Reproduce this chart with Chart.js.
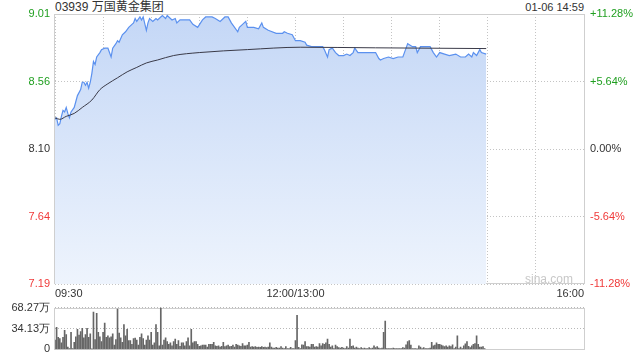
<!DOCTYPE html>
<html>
<head>
<meta charset="utf-8">
<title>03939 万国黄金集团</title>
<script src="https://cdn.jsdelivr.net/npm/chart.js@4.4.0/dist/chart.umd.min.js"></script>
<style>
  body { margin: 0; background: #fff; width: 640px; height: 360px; position: relative; overflow: hidden; }
  .txt { position: absolute; font-family: 'Liberation Sans', Arial, 'Noto Sans CJK SC', sans-serif; color: #333; white-space: nowrap; }
  .box { position: absolute; left: 0; width: 640px; }
</style>
</head>
<body>
<div class="txt" style="left:55px; top:0; font-size:12px; line-height:14px;">03939 万国黄金集团</div>
<div class="txt" style="right:56px; top:1px; font-size:11px; line-height:13px;">01-06 14:59</div>
<div class="box" style="top:0; height:300px;"><canvas id="priceChart"></canvas></div>
<div class="box" style="top:296px; height:65px;"><canvas id="volChart"></canvas></div>
<div class="txt" style="right:67px; top:272px; font-size:12px; line-height:14px; color:#c8c8c8;">sina.com</div>

<script>
// minutes since 09:30 (lunch break removed, 12:00 = 13:00 = 150)
const priceMinutes = [0,1,2,3,4,5,6,7,8,9,10,12,13,14,16,17,18,19,20,21,22,23,24,25,26,28,29,31,33,34,35,36,38,39,40,42,44,46,48,49,50,51,53,54,55,57,58,59,61,63,64,66,67,69,70,73,75,76,78,81,84,86,89,92,94,98,100,103,106,108,110,114,115,117,119,120,124,127,129,130,133,138,142,143,145,148,150,153,156,157,160,163,167,168,170,171,173,175,177,179,180,182,184,186,187,189,192,193,197,200,202,203,205,208,211,214,217,219,220,223,225,226,228,231,234,236,238,240,243,246,250,253,256,258,260,261,263,265,266,269];
const prices = [8.30,8.31,8.26,8.27,8.32,8.36,8.35,8.38,8.34,8.31,8.35,8.38,8.42,8.46,8.50,8.55,8.55,8.53,8.55,8.51,8.55,8.61,8.69,8.67,8.72,8.75,8.77,8.78,8.78,8.75,8.72,8.78,8.81,8.83,8.82,8.87,8.89,8.92,8.94,8.95,8.98,8.96,8.99,8.97,8.99,8.90,8.95,8.98,8.96,8.98,8.97,8.99,9.00,8.98,9.00,8.97,8.98,8.95,8.97,8.97,8.97,8.94,8.92,8.97,8.99,8.99,8.98,8.96,8.99,8.99,8.95,8.89,8.92,8.94,8.96,8.92,8.92,8.91,8.95,8.92,8.90,8.88,8.88,8.89,8.88,8.87,8.83,8.83,8.82,8.80,8.79,8.79,8.79,8.77,8.72,8.77,8.78,8.75,8.73,8.73,8.73,8.74,8.73,8.75,8.78,8.75,8.75,8.75,8.75,8.75,8.71,8.70,8.71,8.72,8.71,8.72,8.72,8.78,8.81,8.79,8.79,8.75,8.79,8.79,8.79,8.75,8.72,8.75,8.74,8.73,8.74,8.72,8.72,8.74,8.72,8.75,8.73,8.77,8.75,8.74];

// average price line
const avgMinutes = [0,3,7,12,17,23,28,33,39,45,51,57,64,74,90,120,153,200,269];
const avgPrices = [8.31,8.30,8.32,8.34,8.38,8.43,8.50,8.54,8.58,8.62,8.65,8.68,8.70,8.73,8.75,8.77,8.786,8.782,8.777];

// volume per minute, in 万 shares (index = minute)
const volumes = [
  15.2,35.9,19.8,17.5,10.6,19.8,31.3,24.4,3.7,1.4,28.0,1.4,11.5,20.7,32.6,23.4,29.0,34.5,18.8,24.4,34.5,19.8,25.3,0.5,61.1,16.1,58.8,28.0,20.7,12.9,28.0,42.8,19.8,22.1,18.8,20.7,25.3,6.9,16.1,65.7,26.7,18.8,11.5,40.5,22.1,32.6,14.3,14.3,8.3,17.5,18.4,15.2,6.9,19.8,25.3,17.5,6.9,15.2,22.1,15.2,28.0,6.9,10.6,40.5,28.0,6.0,68.0,
  6.9,15.2,18.8,12.9,8.3,10.6,6.0,12.9,17.0,8.3,14.3,5.1,10.6,10.6,6.0,12.9,18.8,6.0,32.6,10.6,12.9,12.9,8.3,5.1,6.0,6.9,6.9,6.9,3.7,8.3,8.3,8.3,11.5,6.0,5.1,6.0,3.7,5.1,11.5,4.6,6.0,6.9,4.6,5.1,6.9,3.7,8.3,6.9,6.0,5.1,9.7,6.0,6.0,6.9,11.5,3.7,4.6,3.7,4.6,3.2,3.7,3.2,4.6,3.2,3.7,2.8,3.7,10.6,3.7,
  2.3,2.3,3.2,2.3,2.3,4.6,2.3,1.4,4.6,1.4,1.4,3.2,1.4,1.4,14.3,55.6,3.2,1.4,7.4,6.9,12.9,4.6,4.6,3.7,8.3,8.3,3.7,4.6,3.7,9.7,6.0,9.7,8.3,10.6,17.0,8.3,3.7,6.0,1.4,6.9,4.6,2.8,2.3,3.2,2.3,1.4,4.6,2.3,17.0,5.1,6.0,2.3,3.7,2.3,1.4,2.8,1.4,2.3,1.4,1.4,2.8,1.4,2.3,6.0,2.8,4.6,2.3,
  1.4,2.3,
  28.0,46.4,1.4,1.4,1.4,1.4,2.3,1.4,1.4,1.4,1.4,1.4,2.8,2.3,7.4,12.9,14.3,6.9,1.4,1.4,1.4,0.3,6.0,3.7,1.4,2.8,1.4,1.4,1.4,2.3,11.5,6.0,6.9,10.6,8.3,8.3,6.9,6.0,4.6,6.0,3.7,6.0,4.6,7.4,1.4,3.7,22.1,1.4,3.7,1.4,6.0,9.2,12.9,5.1,2.8,6.0,8.3,9.7,22.1,8.3,3.7,3.7,4.6,1.4
];

// axes
const gridMinutes = [0,30,60,90,120,150,180,210,240,270,300,330];
const xLabelMinutes = [0,150,330];
const xLabelTexts = ['09:30','12:00/13:00','16:00'];
const priceTicks = [7.19,7.645,8.10,8.555,9.01];
const priceTickLabels = ['7.19','7.64','8.10','8.56','9.01'];
const pctTickLabels = ['-11.28%','-5.64%','0.00%','+5.64%','+11.28%'];
const volTicks = [0,34.13,68.27];
const volTickLabels = ['0','34.13万','68.27万'];

const GREEN = '#1f9f1f';
const RED = '#f03a3a';
const tickColors = [RED, RED, '#333', GREEN, GREEN];

Chart.defaults.font.family = "'Liberation Sans', Arial, sans-serif";
Chart.defaults.font.size = 11;
Chart.defaults.color = '#333';

// solid light frame round the plot area
const frame = {
  id: 'frame',
  beforeDatasetsDraw(chart) {
    const { ctx, chartArea: a } = chart;
    ctx.save();
    ctx.strokeStyle = '#cfcfcf';
    ctx.lineWidth = 1;
    ctx.strokeRect(Math.round(a.left) - 0.5, Math.round(a.top) + 0.5, Math.round(a.right - a.left) + 1, Math.round(a.bottom - a.top) - 1);
    ctx.restore();
  }
};

const toPoints = (xs, ys) => xs.map((x, i) => ({ x: x, y: ys[i] }));

// price chart
new Chart(document.getElementById('priceChart'), {
  type: 'line',
  data: {
    datasets: [
      {
        data: toPoints(avgMinutes, avgPrices),
        borderColor: '#3a3a48',
        borderWidth: 1,
        pointRadius: 0,
        cubicInterpolationMode: 'monotone',
        fill: false,
        order: 0
      },
      {
        data: toPoints(priceMinutes, prices),
        borderColor: '#5b91ef',
        borderWidth: 1.2,
        pointRadius: 0,
        tension: 0,
        fill: 'start',
        backgroundColor: (c) => {
          const a = c.chart.chartArea;
          if (!a) return '#dbe7fa';
          const g = c.chart.ctx.createLinearGradient(0, a.top, 0, a.bottom);
          g.addColorStop(0, '#c4d7f6');
          g.addColorStop(1, '#eef4fd');
          return g;
        },
        order: 1
      }
    ]
  },
  options: {
    responsive: true,
    maintainAspectRatio: false,
    animation: false,
    devicePixelRatio: 1,
    layout: { padding: { top: 14, left: 0, right: 0, bottom: 0 } },
    plugins: { legend: { display: false }, tooltip: { enabled: false } },
    scales: {
      x: {
        type: 'linear',
        min: 0,
        max: 330,
        offset: false,
        afterBuildTicks: (s) => { s.ticks = gridMinutes.map(v => ({ value: v })); },
        afterFit: (s) => { s.height = 16; },
        ticks: {
          autoSkip: false,
          maxRotation: 0,
          align: 'inner',
          padding: 3,
          color: '#333',
          callback: (v) => {
            const k = xLabelMinutes.indexOf(v);
            return k >= 0 ? xLabelTexts[k] : '';
          }
        },
        grid: { color: '#c4c4c4', drawTicks: false },
        border: { display: false, dash: [1, 2] }
      },
      y: {
        position: 'left',
        min: 7.19,
        max: 9.01,
        afterBuildTicks: (s) => { s.ticks = priceTicks.map(v => ({ value: v })); },
        afterFit: (s) => { s.width = 55; },
        ticks: {
          padding: 5,
          color: (c) => tickColors[c.index],
          callback: (v, i) => priceTickLabels[i]
        },
        grid: { color: '#c4c4c4', drawTicks: false },
        border: { display: false, dash: [1, 2] }
      },
      pct: {
        position: 'right',
        min: 7.19,
        max: 9.01,
        afterBuildTicks: (s) => { s.ticks = priceTicks.map(v => ({ value: v })); },
        afterFit: (s) => { s.width = 56; },
        ticks: {
          padding: 6,
          color: (c) => tickColors[c.index],
          callback: (v, i) => pctTickLabels[i]
        },
        grid: { display: false, drawTicks: false },
        border: { display: false }
      }
    }
  },
  plugins: [frame]
});

// volume chart
new Chart(document.getElementById('volChart'), {
  type: 'bar',
  data: {
    datasets: [{
      data: volumes.map((v, i) => ({ x: i, y: v })),
      backgroundColor: '#666',
      barThickness: 1
    }]
  },
  options: {
    responsive: true,
    maintainAspectRatio: false,
    animation: false,
    devicePixelRatio: 1,
    layout: { padding: { top: 9, left: 0, right: 56, bottom: 7 } },
    plugins: { legend: { display: false }, tooltip: { enabled: false } },
    scales: {
      x: {
        type: 'linear',
        min: 0,
        max: 330,
        offset: false,
        grid: { offset: false },
        display: false
      },
      y: {
        min: 0,
        max: 68.27,
        afterBuildTicks: (s) => { s.ticks = volTicks.map(v => ({ value: v })); },
        afterFit: (s) => { s.width = 55; },
        ticks: {
          padding: 5,
          color: '#333',
          callback: (v, i) => volTickLabels[i]
        },
        grid: { color: '#b8b8b8', drawTicks: false },
        border: { display: false, dash: [1, 2] }
      }
    }
  },
  plugins: [frame]
});
</script>
</body>
</html>
